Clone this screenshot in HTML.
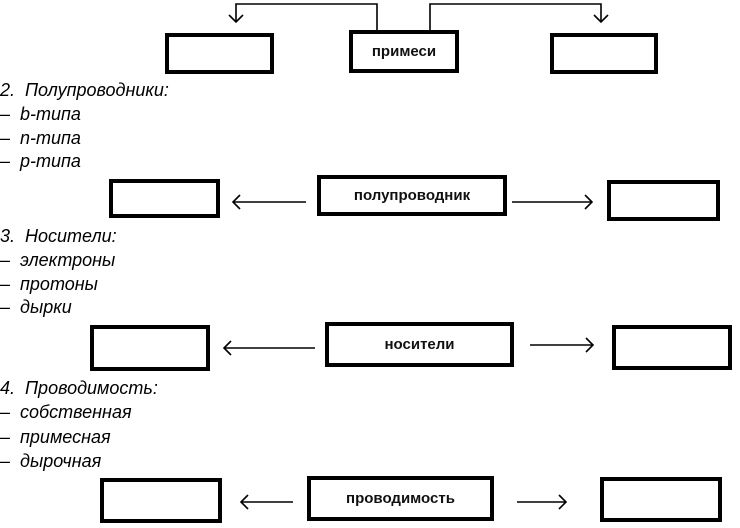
<!DOCTYPE html>
<html><head><meta charset="utf-8"><style>
body{margin:0;width:740px;height:528px;background:#fff;position:relative;overflow:hidden;font-family:"Liberation Sans",Arial,sans-serif}
.b{position:absolute;border:4px solid #000;box-sizing:border-box;display:flex;align-items:center;justify-content:center;font-size:15px;font-weight:bold;color:#111}
.t{position:absolute;left:0;font-style:italic;font-size:18px;line-height:20px;color:#000;white-space:pre}
svg{position:absolute;left:0;top:0}
</style></head><body>
<svg width="740" height="528">
<g stroke="#000" stroke-width="1.6" fill="none">
<polyline points="377,30 377,4 236,4 236,22"/>
<polyline points="229,15 236,22 243,15"/>
<polyline points="430,30 430,4 601,4 601,22"/>
<polyline points="594,15 601,22 608,15"/>
<line x1="306" y1="202" x2="233" y2="202"/><polyline points="240,195 233,202 240,209"/>
<line x1="512" y1="202" x2="592" y2="202"/><polyline points="585,195 592,202 585,209"/>
<line x1="315" y1="348" x2="224" y2="348"/><polyline points="231,341 224,348 231,355"/>
<line x1="530" y1="345" x2="593" y2="345"/><polyline points="586,338 593,345 586,352"/>
<line x1="293" y1="502" x2="241" y2="502"/><polyline points="248,495 241,502 248,509"/>
<line x1="517" y1="502" x2="566" y2="502"/><polyline points="559,495 566,502 559,509"/>
</g></svg>
<div class="b" style="left:165px;top:33px;width:109px;height:41px"></div>
<div class="b" style="left:349px;top:30px;width:110px;height:43px">примеси</div>
<div class="b" style="left:550px;top:33px;width:108px;height:41px"></div>
<div class="t" style="top:80px">2.  Полупроводники:</div>
<div class="t" style="top:104px">–  b-типа</div>
<div class="t" style="top:128px">–  n-типа</div>
<div class="t" style="top:151px">–  p-типа</div>
<div class="b" style="left:109px;top:179px;width:111px;height:39px"></div>
<div class="b" style="left:317px;top:175px;width:190px;height:41px">полупроводник</div>
<div class="b" style="left:607px;top:180px;width:113px;height:41px"></div>
<div class="t" style="top:226px">3.  Носители:</div>
<div class="t" style="top:250px">–  электроны</div>
<div class="t" style="top:274px">–  протоны</div>
<div class="t" style="top:297px">–  дырки</div>
<div class="b" style="left:90px;top:325px;width:120px;height:46px"></div>
<div class="b" style="left:325px;top:322px;width:189px;height:45px">носители</div>
<div class="b" style="left:612px;top:325px;width:120px;height:45px"></div>
<div class="t" style="top:378px">4.  Проводимость:</div>
<div class="t" style="top:402px">–  собственная</div>
<div class="t" style="top:427px">–  примесная</div>
<div class="t" style="top:451px">–  дырочная</div>
<div class="b" style="left:100px;top:478px;width:122px;height:45px"></div>
<div class="b" style="left:307px;top:476px;width:187px;height:45px">проводимость</div>
<div class="b" style="left:600px;top:477px;width:122px;height:45px"></div>
</body></html>
